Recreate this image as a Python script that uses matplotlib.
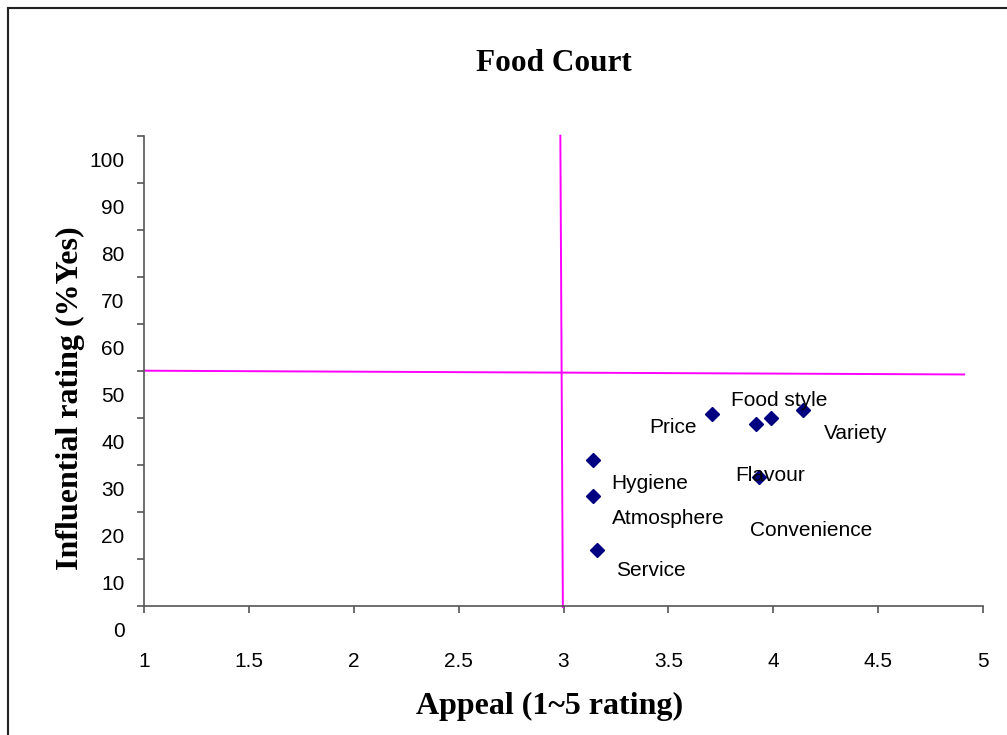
import matplotlib
matplotlib.use('Agg')
import matplotlib.pyplot as plt
import matplotlib.transforms as mtransforms
from matplotlib.lines import Line2D

plt.rcParams['font.family'] = ['Liberation Sans', 'DejaVu Sans']

# survey results: appeal score vs share of "yes" for influence
factors = ['Price', 'Food style', 'Variety', 'Flavour', 'Hygiene', 'Atmosphere', 'Service', 'Convenience']
appeal = [3.71, 3.92, 3.99, 4.14, 3.14, 3.14, 3.16, 3.93]
influence = [40.8, 38.7, 39.9, 41.6, 31.0, 23.4, 11.9, 27.3]

# where each data label was dropped on the chart
label_x = [3.41, 3.80, 4.24, 3.82, 3.23, 3.23, 3.25, 3.89]
label_y = [37.9, 43.6, 36.7, 27.8, 26.0, 18.6, 7.4, 16.0]

# quadrant dividers (hand drawn, slightly off-true)
hline_x = [1.0, 4.91]
hline_y = [50.0, 49.2]
vline_x = [2.985, 2.997]
vline_y = [100.0, -0.3]

xticks = [1, 1.5, 2, 2.5, 3, 3.5, 4, 4.5, 5]
yticks = list(range(0, 101, 10))

fig = plt.figure(figsize=(10.07, 7.35), dpi=100)
ax = fig.add_axes([144 / 1007, 1 - 605.7 / 735, (983 - 144) / 1007, 470 / 735])

ax.plot(hline_x, hline_y, color='#FF00FF', lw=1.4, clip_on=False, zorder=2)
ax.plot(vline_x, vline_y, color='#FF00FF', lw=1.4, clip_on=False, zorder=2)
ax.plot(appeal, influence, linestyle='none', marker='D', markersize=6.8,
        color='#000080', zorder=3)

for name, lx, ly in zip(factors, label_x, label_y):
    ax.text(lx, ly, name, fontsize=15, ha='left', va='center', color='black', zorder=4)

ax.set_xlim(1, 5)
ax.set_ylim(0, 100)
ax.set_xticks(xticks)
ax.set_xticklabels([f'{t:g}' for t in xticks])
ax.set_yticks(yticks)
ax.set_yticklabels([str(t) for t in yticks])

for s in ['top', 'right']:
    ax.spines[s].set_visible(False)
for s in ['left', 'bottom']:
    ax.spines[s].set_color('#555555')
    ax.spines[s].set_linewidth(1.2)

ax.tick_params(axis='both', direction='out', colors='#555555', labelcolor='black',
               labelsize=15, width=1.2)
ax.tick_params(axis='y', length=5, pad=9)
ax.tick_params(axis='x', length=5, pad=28.5)

# y labels sit half a step below their ticks
shift = mtransforms.ScaledTranslation(0, -0.235, fig.dpi_scale_trans)
for lab in ax.get_yticklabels():
    lab.set_transform(lab.get_transform() + shift)

serif = ['Liberation Serif', 'DejaVu Serif']
fig.text(554 / 1007, 1 - 63.5 / 735, 'Food Court', family=serif, fontsize=22.5,
         fontweight='bold', ha='center', va='center')
fig.text(550 / 1007, 1 - 714 / 735, 'Appeal (1~5 rating)', family=serif, fontsize=23,
         fontweight='bold', ha='center', va='baseline')
fig.text(70 / 1007, 1 - 398 / 735, 'Influential rating (%Yes)', family=serif, fontsize=23,
         fontweight='bold', ha='center', va='center', rotation=90)

# chart area frame (open at right and bottom)
fig.add_artist(Line2D([8 / 1007, 1], [1 - 8 / 735, 1 - 8 / 735], transform=fig.transFigure,
                      color='#222222', lw=1.5))
fig.add_artist(Line2D([8 / 1007, 8 / 1007], [0, 1 - 8 / 735], transform=fig.transFigure,
                      color='#222222', lw=1.5))

fig.savefig('out.png', dpi=100)
